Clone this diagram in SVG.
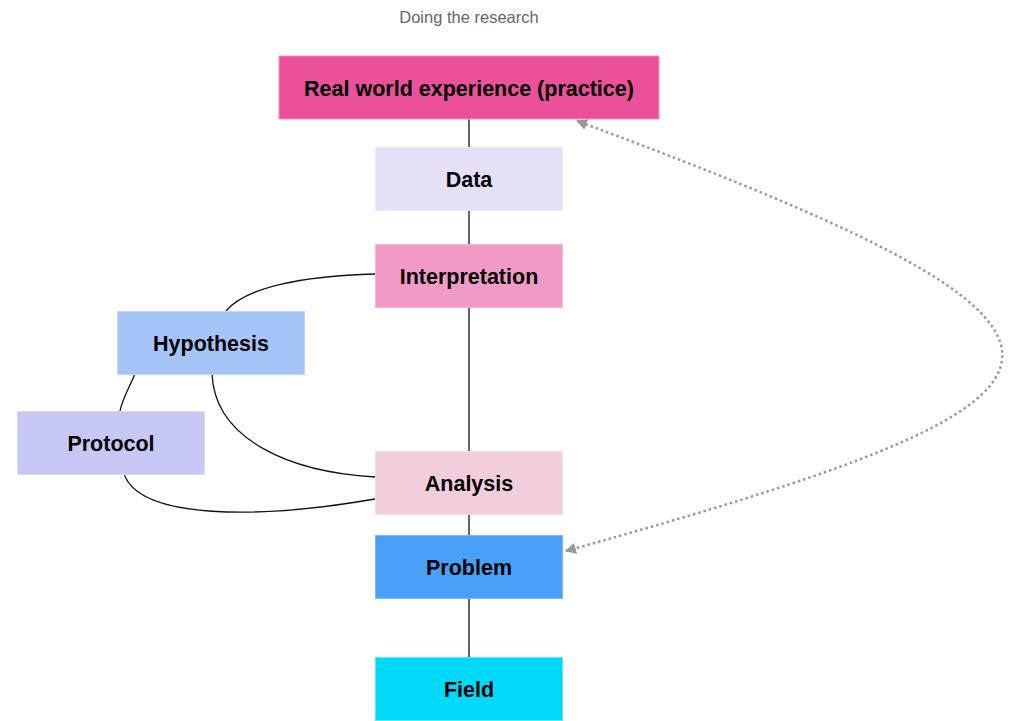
<svg xmlns="http://www.w3.org/2000/svg" width="1012" height="721" viewBox="0 0 1012 721">
<style>
.lbl{font-family:"Liberation Sans",Arial,sans-serif;font-weight:bold;font-size:21.5px;fill:#000;text-anchor:middle}
.title{font-family:"Liberation Sans",Arial,sans-serif;font-size:16.5px;fill:#666;text-anchor:middle}
.e{fill:none;stroke:#111;stroke-width:1.3}
.d{fill:none;stroke:#999;stroke-width:2.5;stroke-dasharray:2.5 3}
</style>
<defs>
<marker id="ah2" viewBox="0 0 10 10" refX="9" refY="5" markerWidth="11" markerHeight="11" orient="auto-start-reverse" markerUnits="userSpaceOnUse">
<path d="M0,0 L10,5 L0,10 z" fill="#999"/>
</marker>
</defs>
<rect width="1012" height="721" fill="#fff"/>
<text class="title" x="469" y="23">Doing the research</text>
<g id="connectors">
<path class="e" d="M469,119 V147 M469,210 V244 M469,307 V451 M469,514 V535 M469,599 V657"/>
<path class="e" d="M375,274 C300,276 245,288 226,311"/>
<path class="e" d="M212,374 C215,440 290,472 375,477"/>
<path class="e" d="M135,374 C128,390 122,400 120,411"/>
<path class="e" d="M124,474 C140,520 260,519 375,499"/>
<path class="d" d="M566,551 C1121,396 1170,340 577,121" marker-start="url(#ah2)" marker-end="url(#ah2)"/>
</g>
<g id="n-real"><rect x="279" y="56" width="380" height="63" fill="#EB519A" stroke="#F490BE" stroke-width="1"/><text class="lbl" x="469" y="95.5">Real world experience (practice)</text></g>
<g id="n-data"><rect x="375.5" y="147.5" width="187" height="63" fill="#E6DFF8" stroke="#EEE9FA"/><text class="lbl" x="469" y="186.5">Data</text></g>
<g id="n-interp"><rect x="375.5" y="244.5" width="187" height="63" fill="#F29AC6" stroke="#F6B6D6"/><text class="lbl" x="469" y="283.5">Interpretation</text></g>
<g id="n-hyp"><rect x="117.5" y="311.5" width="187" height="63" fill="#A5C4F8" stroke="#C3D7FA"/><text class="lbl" x="211" y="350.5">Hypothesis</text></g>
<g id="n-prot"><rect x="17.5" y="411.5" width="187" height="63" fill="#C8C8F6" stroke="#DADAF9"/><text class="lbl" x="111" y="450.5">Protocol</text></g>
<g id="n-anal"><rect x="375.5" y="451.5" width="187" height="63" fill="#F2CDDB" stroke="#F7DEE8"/><text class="lbl" x="469" y="490.5">Analysis</text></g>
<g id="n-prob"><rect x="375.5" y="535.5" width="187" height="63" fill="#48A0F8" stroke="#7DBCFA"/><text class="lbl" x="469" y="575">Problem</text></g>
<g id="n-field"><rect x="375.5" y="657.5" width="187" height="63" fill="#00D8F8" stroke="#5CE6FA"/><text class="lbl" x="469" y="697">Field</text></g>
</svg>
